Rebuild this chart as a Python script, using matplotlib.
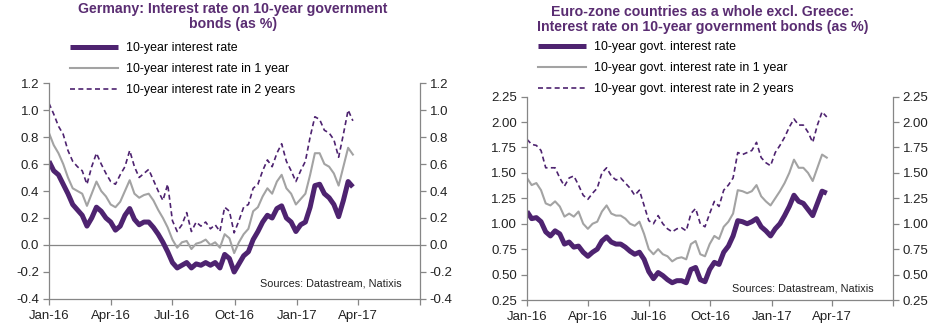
import datetime as dt
import matplotlib
matplotlib.use("Agg")
import matplotlib.pyplot as plt

plt.rcParams['font.family'] = ['Liberation Sans', 'DejaVu Sans']

# weekly observations, 1 Jan 2016 -> late Mar 2017
dates = [dt.date(2016, 1, 1) + dt.timedelta(days=7 * k) for k in range(65)]

de_rate = [0.62, 0.55, 0.52, 0.45, 0.38, 0.30, 0.26, 0.22, 0.14, 0.20,
           0.28, 0.25, 0.20, 0.17, 0.11, 0.14, 0.22, 0.27, 0.19, 0.15,
           0.17, 0.17, 0.13, 0.08, 0.02, -0.05, -0.13, -0.17, -0.15, -0.13,
           -0.17, -0.14, -0.15, -0.13, -0.15, -0.13, -0.17, -0.07, -0.10, -0.20,
           -0.14, -0.08, -0.05, 0.04, 0.10, 0.17, 0.22, 0.20, 0.27, 0.29,
           0.20, 0.17, 0.10, 0.15, 0.17, 0.28, 0.44, 0.45, 0.38, 0.35,
           0.30, 0.21, 0.33, 0.47, 0.43]
de_1y = [0.83, 0.74, 0.68, 0.60, 0.50, 0.42, 0.40, 0.38, 0.29, 0.38,
         0.47, 0.40, 0.36, 0.30, 0.28, 0.32, 0.40, 0.48, 0.38, 0.35,
         0.37, 0.38, 0.33, 0.26, 0.20, 0.13, 0.04, -0.02, 0.02, 0.03,
         -0.03, 0.01, 0.02, 0.04, 0.00, 0.02, -0.02, 0.08, 0.05, -0.06,
         0.02, 0.08, 0.12, 0.25, 0.28, 0.36, 0.42, 0.38, 0.47, 0.52,
         0.42, 0.38, 0.30, 0.34, 0.38, 0.52, 0.68, 0.68, 0.60, 0.58,
         0.53, 0.44, 0.58, 0.72, 0.67]
de_2y = [1.05, 0.97, 0.88, 0.82, 0.70, 0.62, 0.58, 0.55, 0.45, 0.58,
         0.68, 0.60, 0.53, 0.47, 0.45, 0.52, 0.58, 0.70, 0.58, 0.50,
         0.53, 0.56, 0.48, 0.40, 0.33, 0.45, 0.18, 0.10, 0.15, 0.24,
         0.10, 0.17, 0.14, 0.17, 0.12, 0.15, 0.10, 0.28, 0.25, 0.09,
         0.18, 0.28, 0.30, 0.42, 0.45, 0.55, 0.63, 0.58, 0.68, 0.75,
         0.62, 0.55, 0.47, 0.55, 0.62, 0.80, 0.95, 0.93, 0.85, 0.83,
         0.78, 0.65, 0.82, 1.00, 0.92]

ez_rate = [1.12, 1.05, 1.06, 1.02, 0.92, 0.88, 0.93, 0.90, 0.80, 0.82,
           0.77, 0.78, 0.72, 0.68, 0.72, 0.75, 0.83, 0.87, 0.82, 0.80,
           0.80, 0.77, 0.73, 0.70, 0.72, 0.65, 0.53, 0.46, 0.52, 0.49,
           0.45, 0.42, 0.44, 0.44, 0.42, 0.55, 0.57, 0.45, 0.43, 0.55,
           0.62, 0.60, 0.72, 0.78, 0.88, 1.03, 1.02, 1.00, 1.02, 1.05,
           0.97, 0.93, 0.88, 0.95, 1.00, 1.08, 1.17, 1.28, 1.22, 1.20,
           1.14, 1.08, 1.20, 1.32, 1.30]
ez_1y = [1.45, 1.38, 1.40, 1.33, 1.20, 1.18, 1.22, 1.17, 1.07, 1.10,
         1.07, 1.12, 1.00, 0.95, 1.00, 1.02, 1.12, 1.18, 1.10, 1.08,
         1.08, 1.05, 1.00, 0.98, 1.02, 0.90, 0.75, 0.70, 0.75, 0.70,
         0.68, 0.63, 0.66, 0.67, 0.65, 0.80, 0.83, 0.70, 0.68, 0.80,
         0.88, 0.85, 0.97, 1.02, 1.10, 1.33, 1.32, 1.30, 1.32, 1.38,
         1.27, 1.22, 1.18, 1.25, 1.32, 1.40, 1.50, 1.63, 1.55, 1.55,
         1.50, 1.42, 1.55, 1.68, 1.65]
ez_2y = [1.83, 1.78, 1.77, 1.72, 1.55, 1.55, 1.55, 1.45, 1.37, 1.45,
         1.47, 1.38, 1.28, 1.24, 1.30, 1.35, 1.50, 1.55, 1.47, 1.43,
         1.45, 1.40, 1.35, 1.28, 1.33, 1.18, 1.03, 1.00, 1.08, 1.00,
         0.95, 0.92, 0.95, 0.96, 0.93, 1.10, 1.15, 1.00, 0.97, 1.10,
         1.22, 1.17, 1.33, 1.38, 1.45, 1.70, 1.68, 1.70, 1.72, 1.80,
         1.65, 1.60, 1.57, 1.70, 1.77, 1.85, 1.95, 2.03, 1.97, 1.97,
         1.90, 1.80, 1.97, 2.10, 2.05]

tick_dates = [dt.date(2016, 1, 1), dt.date(2016, 4, 1), dt.date(2016, 7, 1),
              dt.date(2016, 10, 1), dt.date(2017, 1, 1), dt.date(2017, 4, 1),
              dt.date(2017, 7, 1)]
tick_labels = ['Jan-16', 'Apr-16', 'Jul-16', 'Oct-16', 'Jan-17', 'Apr-17', '']

purple = '#4E2370'
grey = '#A3A3A3'
axis_grey = '#868686'
title_col = '#5A2D72'

fig = plt.figure(figsize=(9.49, 3.29), dpi=100)
ax1 = fig.add_axes([0.0516, 0.0912, 0.391, 0.6565])
ax2 = fig.add_axes([0.5553, 0.0881, 0.3857, 0.6183])


def style(ax, ylim, yticks, fmt):
    ax.set_xlim(tick_dates[0], tick_dates[-1])
    ax.set_ylim(*ylim)
    ax.set_xticks(tick_dates)
    ax.set_xticklabels(tick_labels)
    ax.set_yticks(yticks)
    ax.set_yticklabels([fmt.format(v) for v in yticks])
    ax.spines['top'].set_visible(False)
    for s in ['left', 'right', 'bottom']:
        ax.spines[s].set_color(axis_grey)
        ax.spines[s].set_linewidth(0.9)
    ax.tick_params(axis='both', direction='out', length=4, width=0.9,
                   color=axis_grey, labelsize=9.5, labelcolor='#222222')
    ax.tick_params(axis='y', left=True, right=True, labelleft=True,
                   labelright=True, pad=3)
    ax.tick_params(axis='x', pad=4)


l1, = ax1.plot(dates, de_rate, color=purple, lw=3.6, solid_capstyle='butt')
l2, = ax1.plot(dates, de_1y, color=grey, lw=1.5)
l3, = ax1.plot(dates, de_2y, color=purple, lw=1.2, ls=(0, (3, 2)))
ax1.axhline(0, color=axis_grey, lw=0.9, zorder=0)
style(ax1, (-0.4, 1.2), [-0.4, -0.2, 0.0, 0.2, 0.4, 0.6, 0.8, 1.0, 1.2], '{:.1f}')
ax1.text(0.951, 0.074, 'Sources: Datastream, Natixis', transform=ax1.transAxes,
         ha='right', va='center', fontsize=7.8, color='#222222')

ax2.plot(dates, ez_rate, color=purple, lw=3.6, solid_capstyle='butt')
ax2.plot(dates, ez_1y, color=grey, lw=1.5)
ax2.plot(dates, ez_2y, color=purple, lw=1.2, ls=(0, (3, 2)))
style(ax2, (0.25, 2.25), [0.25, 0.5, 0.75, 1.0, 1.25, 1.5, 1.75, 2.0, 2.25], '{:.2f}')
ax2.text(0.948, 0.059, 'Sources: Datastream, Natixis', transform=ax2.transAxes,
         ha='right', va='center', fontsize=7.8, color='#222222')

fig.text(0.2455, 0.950, 'Germany: Interest rate on 10-year government\nbonds (as %)',
         ha='center', va='center', fontsize=10.2, fontweight='bold',
         color=title_col, linespacing=1.1)
fig.text(0.740, 0.940, 'Euro-zone countries as a whole excl. Greece:\n'
         'Interest rate on 10-year government bonds (as %)',
         ha='center', va='center', fontsize=10.2, fontweight='bold',
         color=title_col, linespacing=1.1)

leg_kw = dict(loc='upper left', frameon=False, fontsize=8.9, handlelength=3.9,
              handletextpad=0.65, labelspacing=0.72, borderaxespad=0, borderpad=0)
fig.legend([l1, l2, l3], ['10-year interest rate', '10-year interest rate in 1 year',
                          '10-year interest rate in 2 years'],
           bbox_to_anchor=(0.0738, 0.872), **leg_kw)
fig.legend([l1, l2, l3], ['10-year govt. interest rate',
                          '10-year govt. interest rate in 1 year',
                          '10-year govt. interest rate in 2 years'],
           bbox_to_anchor=(0.567, 0.875), **leg_kw)

fig.savefig('out.png', dpi=100)
